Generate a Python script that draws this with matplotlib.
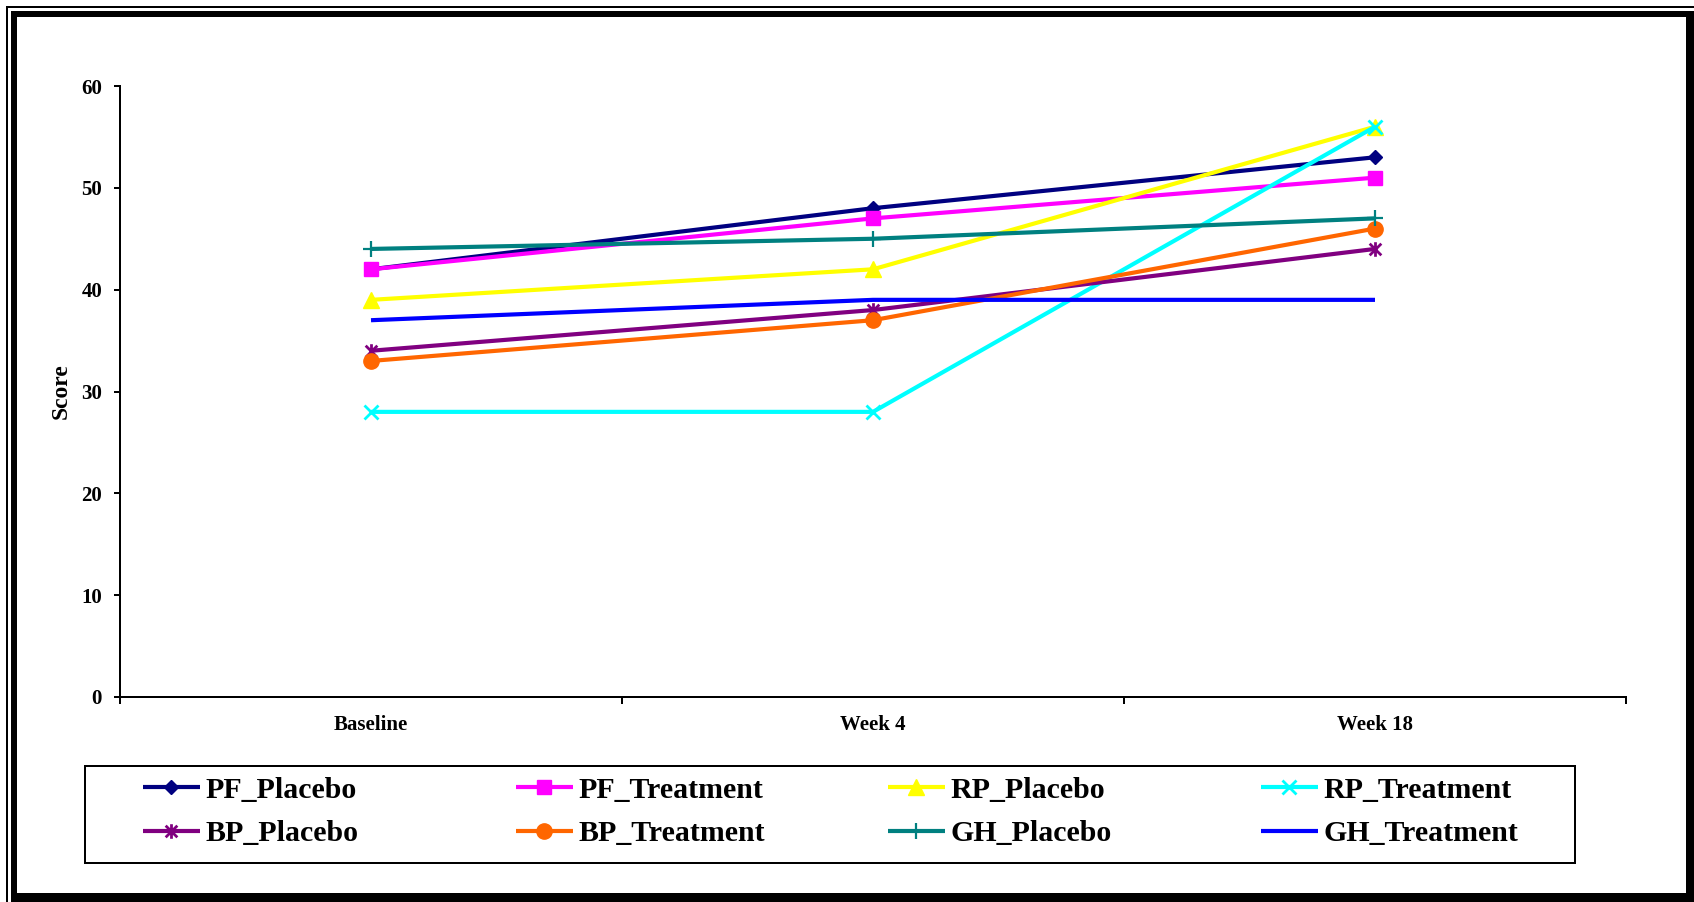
import numpy as np
import matplotlib
matplotlib.use("Agg")
import matplotlib.pyplot as plt
from matplotlib.path import Path
from matplotlib.patches import Rectangle

# ---- data -------------------------------------------------------------
categories = ["Baseline", "Week 4", "Week 18"]
pf_placebo = [42, 48, 53]
pf_treatment = [42, 47, 51]
rp_placebo = [39, 42, 56]
rp_treatment = [28, 28, 56]
bp_placebo = [34, 38, 44]
bp_treatment = [33, 37, 46]
gh_placebo = [44, 45, 47]
gh_treatment = [37, 39, 39]
y_ticks = [0, 10, 20, 30, 40, 50, 60]

# ---- figure -----------------------------------------------------------
W, H, DPI = 1694, 902, 100
plt.rcParams["font.family"] = ["Liberation Serif", "DejaVu Serif"]
plt.rcParams["font.weight"] = "bold"
fig = plt.figure(figsize=(W / DPI, H / DPI), dpi=DPI, facecolor="white")


def px_rect(x0, y0, x1, y1, **kw):
    """Rectangle given in pixel coordinates measured from the top-left."""
    return Rectangle((x0 / W, 1 - y1 / H), (x1 - x0) / W, (y1 - y0) / H,
                     transform=fig.transFigure, **kw)


# page border: thin outer rule plus heavy frame
for r in [(6, 6, 1694, 8), (6, 6, 8, 902),
          (11, 11, 1694, 17), (11, 11, 17, 902),
          (1686, 11, 1694, 902), (11, 893, 1694, 902)]:
    fig.patches.append(px_rect(*r, facecolor="black", edgecolor="none"))

ax = fig.add_axes([120 / W, 1 - 697 / H, (1626 - 120) / W, (697 - 86) / H])

asterisk = Path([(-1, -1), (1, 1), (-1, 1), (1, -1), (0, -1.25), (0, 1.25)],
                [Path.MOVETO, Path.LINETO] * 3)

series = [
    ("PF_Placebo", pf_placebo, "#000080", "D", 7.5, 1.0),
    ("PF_Treatment", pf_treatment, "#FF00FF", "s", 10.5, 1.0),
    ("RP_Placebo", rp_placebo, "#FFFF00", "^", 11, 1.0),
    ("RP_Treatment", rp_treatment, "#00FFFF", "x", 10.5, 2.0),
    ("BP_Placebo", bp_placebo, "#800080", asterisk, 10.5, 2.0),
    ("BP_Treatment", bp_treatment, "#FF6600", "o", 11, 1.0),
    ("GH_Placebo", gh_placebo, "#008080", "+", 12, 1.6),
    ("GH_Treatment", gh_treatment, "#0000FF", None, 0, 1.0),
]

x = np.arange(len(categories)) + 0.5
handles = {}
for label, vals, color, marker, ms, mew in series:
    (ln,) = ax.plot(x, vals, color=color, lw=3.0, marker=marker,
                    markersize=ms, markeredgewidth=mew,
                    markerfacecolor=color, markeredgecolor=color,
                    solid_capstyle="butt", label=label, clip_on=False)
    handles[label] = ln

ax.set_xlim(0, len(categories))
ax.set_ylim(0, 60)
ax.set_yticks(y_ticks)
ax.set_yticklabels([str(t) for t in y_ticks], fontsize=15, fontweight="bold")
ax.tick_params(axis="y", direction="out", length=4.3, width=1.44, pad=8.6)

ax.set_xticks(np.arange(len(categories) + 1))
ax.set_xticklabels([])
ax.tick_params(axis="x", which="major", direction="out", length=5, width=1.44)
ax.set_xticks(x, minor=True)
ax.set_xticklabels(categories, minor=True, fontsize=15, fontweight="bold")
ax.tick_params(axis="x", which="minor", length=0, pad=13)

for side in ("top", "right"):
    ax.spines[side].set_visible(False)
for side in ("left", "bottom"):
    ax.spines[side].set_linewidth(1.44)

ax.set_ylabel("Score", fontsize=17, fontweight="bold")
ax.yaxis.set_label_coords(-0.032, 0.5)

# legend: boxed, four evenly spaced columns of two entries
fig.patches.append(px_rect(85, 766, 1575, 863, facecolor="none",
                           edgecolor="black", lw=1.44))
columns = [["PF_Placebo", "BP_Placebo"], ["PF_Treatment", "BP_Treatment"],
           ["RP_Placebo", "GH_Placebo"], ["RP_Treatment", "GH_Treatment"]]
col_x = [143, 516, 888, 1261]
for cx, names in zip(col_x, columns):
    leg = fig.legend([handles[n] for n in names], names, loc="center left",
                     bbox_to_anchor=(cx / W, 1 - 812 / H),
                     bbox_transform=fig.transFigure, frameon=False,
                     borderpad=0, borderaxespad=0, handlelength=1.9,
                     handletextpad=0.2, labelspacing=0.55, numpoints=1,
                     prop={"family": "Liberation Serif", "weight": "bold",
                           "size": 21.5})

fig.savefig("out.png", dpi=DPI, facecolor="white")
